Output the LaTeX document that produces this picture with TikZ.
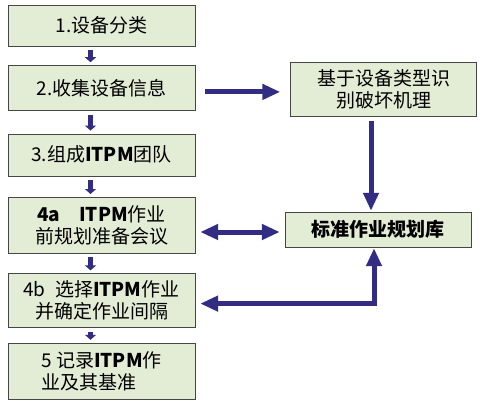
\documentclass[tikz,border=0pt]{standalone}
\usepackage{fontspec}
\setmainfont{Noto Sans CJK SC}
\usepackage{tikz}
\usetikzlibrary{arrows.meta, positioning, calc}
\usepackage{xcolor}
\definecolor{boxgreen}{RGB}{227,237,214}
\definecolor{boxline}{RGB}{70,70,70}
\definecolor{arrowblue}{RGB}{50,45,130}

\begin{document}
\begin{tikzpicture}[
		x=1pt, y=1pt,
		node distance=20pt,
		pbox/.style={draw=boxline, thin, fill=boxgreen, minimum width=187pt, align=center, font=\fontsize{19}{22}\selectfont, inner sep=2pt},
		rbox/.style={pbox, minimum width=186pt},
		smallarrow/.style={-{Triangle[length=5pt, width=11pt]}, line width=4.5pt, arrowblue, shorten <=4pt, shorten >=3pt},
		bigarrow/.style={-{Triangle[length=18pt, width=15pt]}, line width=5pt, arrowblue},
		twoway/.style={bigarrow, {Triangle[length=18pt, width=15pt]}-{Triangle[length=18pt, width=15pt]}}
	]
	\useasboundingbox (0,0) rectangle (500,-413);
	% left column
	\node[pbox, minimum height=41pt] (s1) at (101.5,-25.5) {1.设备分类};
	\node[pbox, minimum height=45pt, below=19pt of s1] (s2) {2.收集设备信息};
	\node[pbox, minimum height=42pt, below=23pt of s2] (s3) {3.组成\textbf{ITPM}团队};
	\node[pbox, minimum height=56pt, below=21pt of s3] (s4a) {\textbf{4a\quad ITPM}作业\\前规划准备会议};
	\node[pbox, minimum height=54pt, below=20pt of s4a] (s4b) {4b\enspace 选择\textbf{ITPM}作业\\并确定作业间隔};
	\node[pbox, minimum height=56pt, below=15pt of s4b, align=left] (s5) {5 记录\textbf{ITPM}作\\业及其基准};
	% right column
	\node[rbox, minimum height=54pt] (info) at (383.5,-89) {基于设备类型识\\别破坏机理};
	\node[rbox, minimum height=35pt] (lib) at (378,-229.5) {\textbf{标准作业规划库}};

	\foreach \a/\b in {s1/s2, s2/s3, s3/s4a, s4a/s4b, s4b/s5}
		\draw[smallarrow] ([xshift=-11pt]\a.south) -- ([xshift=-11pt]\b.north);

	\draw[bigarrow, shorten <=10pt, shorten >=10pt] ([yshift=-4pt]s2.east) -- ([yshift=-4pt]s2.east -| info.west);
	\draw[bigarrow, shorten <=5pt, shorten >=1pt] ([xshift=-7pt]lib.north |- info.south) -- ([xshift=-7pt]lib.north);
	\draw[twoway, shorten <=5pt, shorten >=5pt] (lib.west |- 0,-232) -- (s4a.east |- 0,-232);
	\draw[twoway, shorten <=1pt, shorten >=5pt] ([xshift=-4pt]lib.south) |- ([yshift=-3pt]s4b.east);
\end{tikzpicture}
\end{document}
